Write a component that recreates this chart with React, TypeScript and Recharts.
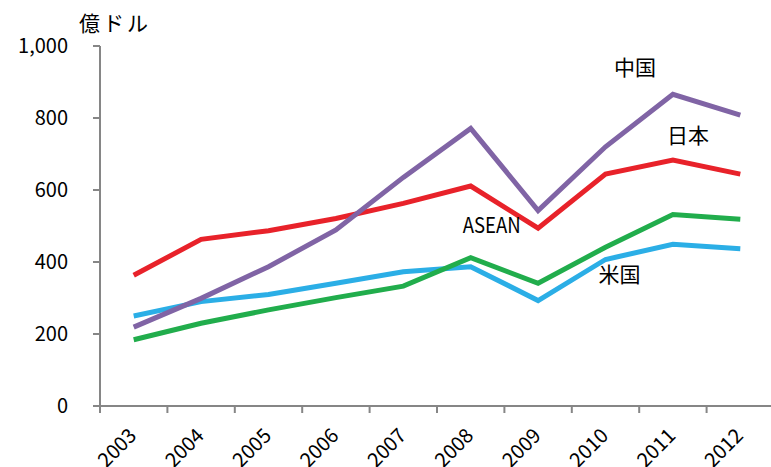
import React from 'react';
import { LineChart, Line, XAxis, YAxis, LabelList } from 'recharts';

// Annual values, 億ドル
const years = ['2003', '2004', '2005', '2006', '2007', '2008', '2009', '2010', '2011', '2012'];
const china = [219, 299, 387, 489, 635, 771, 543, 720, 866, 808];
const japan = [363, 463, 487, 521, 563, 611, 494, 644, 683, 644];
const asean = [184, 230, 267, 301, 333, 412, 341, 441, 532, 519];
const usa = [250, 290, 310, 341, 373, 387, 293, 407, 449, 437];
const yTicks = [0, 200, 400, 600, 800, 1000];

const data = years.map((year, i) => ({
  year,
  china: china[i],
  japan: japan[i],
  asean: asean[i],
  usa: usa[i],
}));

const W = 776;
const H = 467;
const M = { top: 46, right: 2, bottom: 0, left: 0 };
const X_AXIS_H = 61;
const Y_AXIS_W = 100;
const HALF_BAND = (W - M.left - M.right - Y_AXIS_W) / years.length / 2;

const FONT = '"Noto Sans CJK JP", "Noto Sans", sans-serif';
const AXIS = '#868686';

const XTick = (props: any) => {
  const { x, y, payload } = props;
  const bx = x - HALF_BAND;
  const tx = x + 4;
  const ty = y + 31;
  return (
    <g>
      <line x1={bx} y1={y} x2={bx} y2={y + 7} stroke={AXIS} strokeWidth={2} />
      <text
        x={tx}
        y={ty}
        transform={`rotate(-45, ${tx}, ${ty})`}
        textAnchor="end"
        fontSize={20}
        fontFamily={FONT}
        fill="#000"
      >
        {payload.value}
      </text>
    </g>
  );
};

// Series name drawn beside one chosen point of the series
const nameAt = (index: number, name: string, dx: number, dy: number, condensed?: number) =>
  (props: any) => {
    if (props.index !== index) return null;
    return (
      <text
        x={props.x + dx}
        y={props.y + dy}
        textAnchor="middle"
        dominantBaseline="central"
        fontSize={21}
        fontFamily={FONT}
        fill="#000"
        {...(condensed ? { textLength: condensed, lengthAdjust: 'spacingAndGlyphs' } : {})}
      >
        {name}
      </text>
    );
  };

export default function App() {
  return (
    <div style={{ position: 'relative', width: 771, height: 467, overflow: 'hidden', background: '#fff' }}>
      <style>{'body{margin:0;overflow:hidden}'}</style>
      <div
        style={{
          position: 'absolute',
          left: 79,
          top: 7,
          fontSize: 21,
          fontFamily: FONT,
          color: '#000',
          lineHeight: '30px',
          letterSpacing: 3,
        }}
      >
        億ドル
      </div>
      <LineChart width={W} height={H} data={data} margin={M}>
        <XAxis
          dataKey="year"
          scale="band"
          height={X_AXIS_H}
          axisLine={{ stroke: AXIS, strokeWidth: 2 }}
          tickLine={false}
          tickSize={0}
          tickMargin={0}
          interval={0}
          tick={<XTick />}
        />
        <YAxis
          width={Y_AXIS_W}
          domain={[0, 1000]}
          ticks={yTicks}
          interval={0}
          axisLine={{ stroke: AXIS, strokeWidth: 2 }}
          tickLine={{ stroke: AXIS, strokeWidth: 2 }}
          tickSize={7}
          tickMargin={25}
          tickFormatter={(v: number) => v.toLocaleString('en-US')}
          tick={{ fontSize: 20, fontFamily: FONT, fill: '#000' }}
        />
        <Line dataKey="usa" stroke="#2BAEE6" strokeWidth={5} dot={false} isAnimationActive={false}>
          <LabelList content={nameAt(7, '米国', 14, 14)} />
        </Line>
        <Line dataKey="asean" stroke="#21AD4C" strokeWidth={5} dot={false} isAnimationActive={false}>
          <LabelList content={nameAt(5, 'ASEAN', 21, -34, 58)} />
        </Line>
        <Line dataKey="japan" stroke="#E8222A" strokeWidth={5} dot={false} isAnimationActive={false}>
          <LabelList content={nameAt(8, '日本', 15, -26)} />
        </Line>
        <Line dataKey="china" stroke="#8064A5" strokeWidth={5} dot={false} isAnimationActive={false}>
          <LabelList content={nameAt(8, '中国', -38, -28)} />
        </Line>
      </LineChart>
    </div>
  );
}
